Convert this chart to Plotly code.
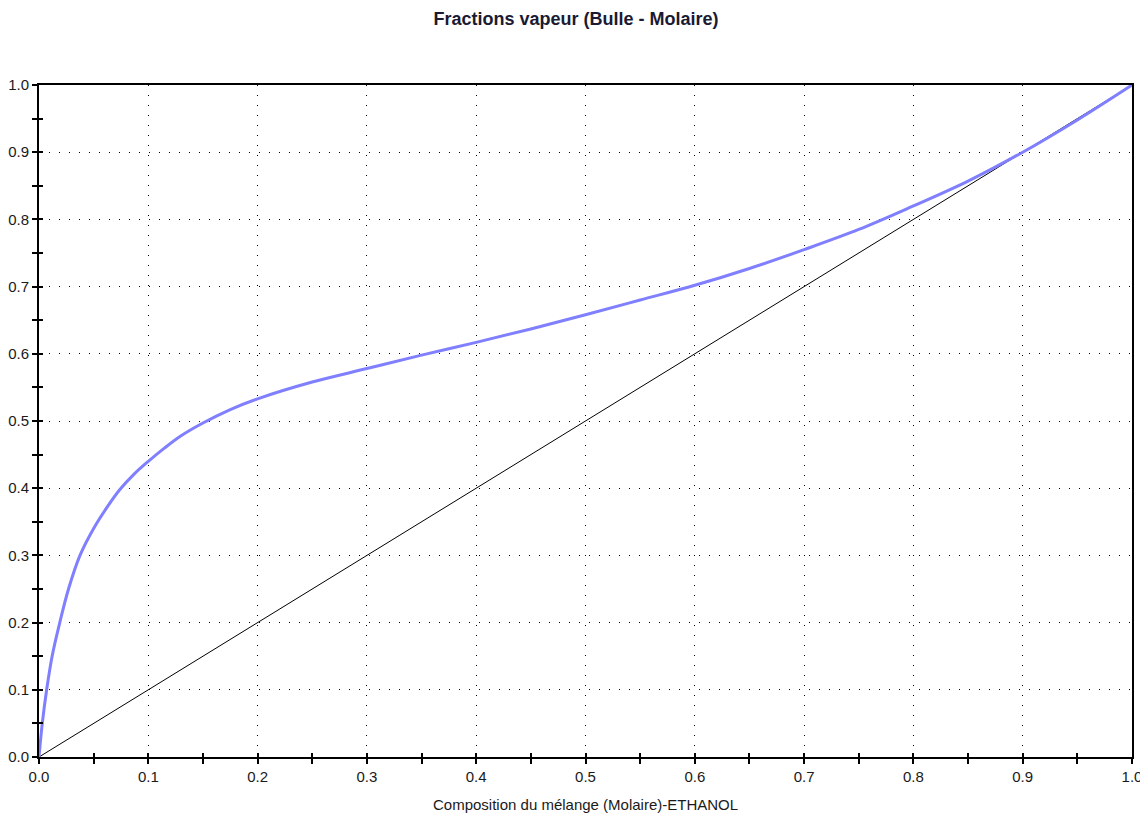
import plotly.graph_objects as go

# Liquid mole fraction of ethanol vs vapour mole fraction (bubble curve)
x_liq = [0, 0.003, 0.007, 0.012, 0.019, 0.027, 0.0375, 0.05, 0.062, 0.074, 0.087,
         0.1, 0.115, 0.13, 0.15, 0.175, 0.2, 0.25, 0.3, 0.35, 0.4, 0.45, 0.5, 0.55,
         0.6, 0.65, 0.7, 0.75, 0.8, 0.85, 0.9, 0.95, 1.0]
y_vap = [0, 0.05, 0.10, 0.15, 0.20, 0.25, 0.30, 0.34, 0.371, 0.398, 0.421,
         0.44, 0.46, 0.478, 0.497, 0.517, 0.533, 0.558, 0.578, 0.598, 0.617, 0.637, 0.658, 0.68,
         0.702, 0.727, 0.755, 0.785, 0.82, 0.857, 0.9, 0.948, 1.0]

x_diag = [0, 1]
y_diag = [0, 1]

tick_vals = [0, 0.1, 0.2, 0.3, 0.4, 0.5, 0.6, 0.7, 0.8, 0.9, 1.0]
tick_text = ["0.0", "0.1", "0.2", "0.3", "0.4", "0.5", "0.6", "0.7", "0.8", "0.9", "1.0"]

title_text = "Fractions vapeur (Bulle - Molaire)"
xlabel_text = "Composition du mélange (Molaire)-ETHANOL"

FONT = "Liberation Sans, Arial, sans-serif"
W, H = 1148, 816

fig = go.Figure()
fig.add_trace(go.Scatter(x=x_diag, y=y_diag, mode="lines",
                         line=dict(color="black", width=1), showlegend=False))
fig.add_trace(go.Scatter(x=x_liq, y=y_vap, mode="lines",
                         line=dict(color="#7f7fff", width=3, shape="spline", smoothing=1.0),
                         showlegend=False))
# empty trace to instantiate overlay axes (inner half of crossing ticks)
fig.add_trace(go.Scatter(x=[], y=[], xaxis="x2", yaxis="y2", showlegend=False))

grid = dict(showgrid=True, gridcolor="black", gridwidth=1, griddash="1px,9px")

axis_common = dict(range=[0, 1], tickvals=tick_vals, ticktext=tick_text,
                   ticks="outside", ticklen=5, tickwidth=1.5, tickcolor="black",
                   showline=True, linecolor="black", linewidth=2, mirror=True,
                   zeroline=False, automargin=False,
                   tickfont=dict(family=FONT, size=15, color="#1a1a1a"),
                   minor=dict(dtick=0.05, tick0=0, ticks="outside", ticklen=5,
                              tickwidth=1.5, tickcolor="black", showgrid=False),
                   **grid)

inner = dict(range=[0, 1], tickvals=tick_vals, ticks="inside", ticklen=4, tickwidth=1.5,
             tickcolor="black", showticklabels=False, showgrid=False,
             showline=False, zeroline=False, automargin=False,
             minor=dict(dtick=0.05, tick0=0, ticks="inside", ticklen=4,
                        tickwidth=1.5, tickcolor="black", showgrid=False))

fig.update_layout(
    width=W, height=H,
    margin=dict(l=31, r=24, t=77, b=67, autoexpand=False),
    plot_bgcolor="white", paper_bgcolor="white",
    title=dict(text="<b>" + title_text + "</b>", x=568 / W, xref="container", xanchor="center",
               y=1 - 11 / H, yref="container", yanchor="middle",
               font=dict(family=FONT, size=18, color="#1a1a33")),
    xaxis=dict(**axis_common),
    yaxis=dict(**axis_common),
    xaxis2=dict(overlaying="x", anchor="y2", side="bottom", **inner),
    yaxis2=dict(overlaying="y", anchor="x2", side="left", **inner),
    annotations=[dict(text=xlabel_text, x=0.5, xref="paper", y=0, yref="paper",
                      xanchor="center", yanchor="middle", yshift=-47, showarrow=False,
                      font=dict(family=FONT, size=15, color="#1a1a1a"))],
)

fig.write_html("out.html")
